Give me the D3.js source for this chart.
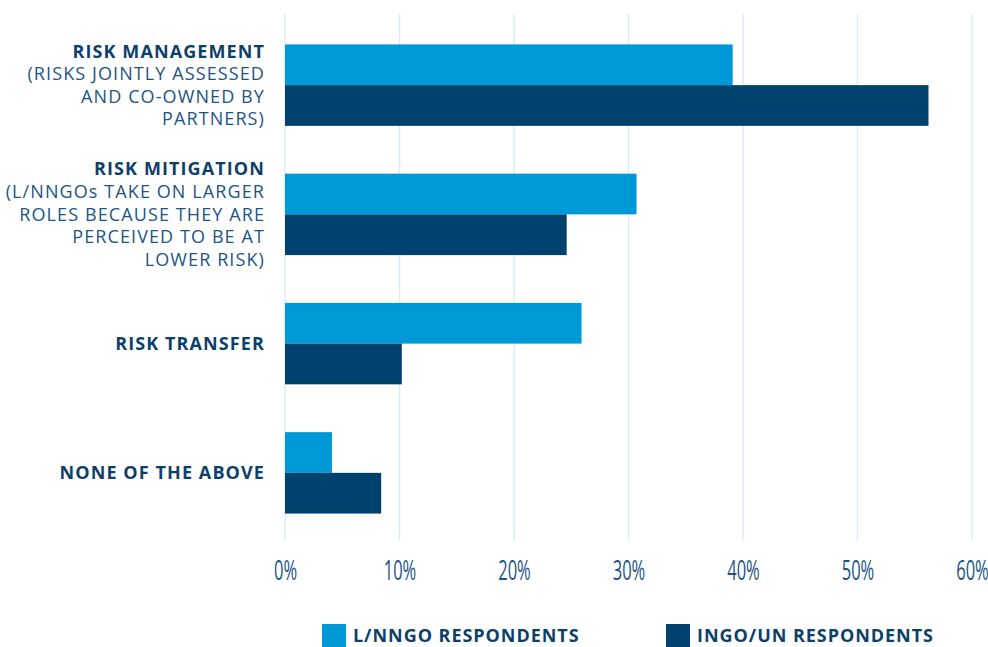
<!DOCTYPE html>
<html>
<head>
<meta charset="utf-8">
<script src="https://cdn.jsdelivr.net/npm/d3@7"></script>
<style>
  body { margin: 0; background: #fff; }
  text { font-family: "Open Sans", "DejaVu Sans", sans-serif; }
</style>
</head>
<body>
<script>
// chart data
var categories = ["RISK MANAGEMENT", "RISK MITIGATION", "RISK TRANSFER", "NONE OF THE ABOVE"];
var subLines = [
  ["(RISKS JOINTLY ASSESSED", "AND CO-OWNED BY", "PARTNERS)"],
  ["(L/NNGOs TAKE ON LARGER", "ROLES BECAUSE THEY ARE", "PERCEIVED TO BE AT", "LOWER RISK)"],
  [],
  []
];
var seriesNames = ["L/NNGO RESPONDENTS", "INGO/UN RESPONDENTS"];
var lnngo = [39.1, 30.7, 25.9, 4.1];
var ingoUn = [56.2, 24.6, 10.2, 8.4];
var tickValues = [0, 10, 20, 30, 40, 50, 60];

var colors = ["#0099d8", "#00426e"];
var width = 988, height = 647;

var svg = d3.select("body").append("svg")
    .attr("width", width)
    .attr("height", height);

// scales
var x = d3.scaleLinear().domain([0, 60]).range([285, 972]);
var y = d3.scaleBand().domain(categories).range([16, 542])
    .paddingInner(0.37).paddingOuter(0.22);
var ySub = d3.scaleBand().domain(seriesNames).range([0, y.bandwidth()]);

// gridlines
svg.append("g").selectAll("line")
  .data(tickValues)
  .enter().append("line")
    .attr("x1", function(d) { return x(d); })
    .attr("x2", function(d) { return x(d); })
    .attr("y1", 14)
    .attr("y2", 540)
    .attr("stroke", "#dcecf7")
    .attr("stroke-width", 1.5);

// bars
var rows = categories.map(function(c, i) {
  return { cat: c, values: [lnngo[i], ingoUn[i]] };
});
var groups = svg.append("g").selectAll("g")
  .data(rows)
  .enter().append("g")
    .attr("transform", function(d) { return "translate(0," + y(d.cat) + ")"; });

groups.selectAll("rect")
  .data(function(d) { return d.values.map(function(v, j) { return { name: seriesNames[j], v: v, j: j }; }); })
  .enter().append("rect")
    .attr("x", x(0))
    .attr("y", function(d) { return ySub(d.name); })
    .attr("width", function(d) { return x(d.v) - x(0); })
    .attr("height", ySub.bandwidth())
    .attr("fill", function(d) { return colors[d.j]; });

// category labels
var lineH = 22.6;
var labels = svg.append("g").selectAll("text")
  .data(categories)
  .enter().append("text")
    .attr("text-anchor", "end")
    .attr("font-size", 18)
    .attr("letter-spacing", 1.1)
    .attr("fill", "#0d3f6b");
labels.each(function(c, i) {
  var lines = [c].concat(subLines[i]);
  var cy = y(c) + y.bandwidth() / 2;
  var top = cy - (lines.length - 1) * lineH / 2;
  var t = d3.select(this);
  lines.forEach(function(l, k) {
    t.append("tspan")
      .attr("x", 265)
      .attr("y", top + k * lineH)
      .attr("dy", "0.35em")
      .attr("font-weight", k === 0 ? 700 : 400)
      .attr("fill", k === 0 ? "#0d3f6b" : "#1d5485")
      .text(l);
  });
});

// x axis tick labels (condensed look)
var xAxis = d3.axisBottom(x).tickValues(tickValues)
    .tickFormat(function(d) { return d + "%"; })
    .tickSize(0).tickPadding(0);
var ax = svg.append("g").attr("transform", "translate(0,580)").call(xAxis);
ax.select(".domain").remove();
ax.selectAll("text")
    .attr("y", 0)
    .attr("dy", 0)
    .attr("font-family", "'Open Sans', sans-serif")
    .attr("font-size", 28)
    .attr("transform", "scale(0.59,1)")
    .attr("fill", "#1d5485");

// legend
var legendX = [322, 666];
var legend = svg.append("g").selectAll("g")
  .data(seriesNames)
  .enter().append("g")
    .attr("transform", function(d, i) { return "translate(" + legendX[i] + ",624)"; });
legend.append("rect")
  .attr("width", 24).attr("height", 24)
  .attr("fill", function(d, i) { return colors[i]; });
legend.append("text")
  .attr("x", 31).attr("y", 12).attr("dy", "0.35em")
  .attr("font-size", 18).attr("font-weight", 700)
  .attr("letter-spacing", 0.95)
  .attr("fill", "#0d3f6b")
  .text(function(d) { return d; });
</script>
</body>
</html>
